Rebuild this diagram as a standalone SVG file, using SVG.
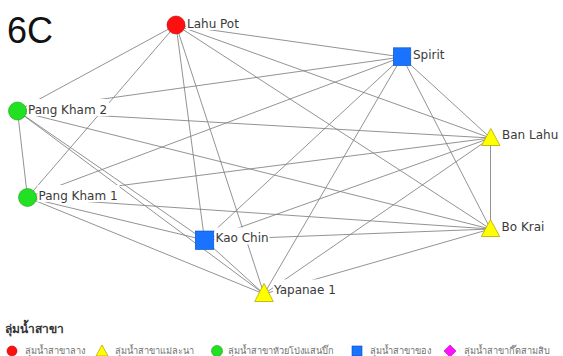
<svg xmlns="http://www.w3.org/2000/svg" width="563" height="356" viewBox="0 0 563 356">
<style>
.e line{stroke:#7f7f7f;stroke-width:0.85;fill:none}
.lbl{font-family:"DejaVu Sans",Verdana,sans-serif;font-size:12px;fill:#3a3a3a}
.bg{fill:#ffffff}
.red{fill:#ff1010;stroke:#c00000;stroke-width:0.6}
.grn{fill:#22e022;stroke:#10a010;stroke-width:0.6}
.blu{fill:#1a73ff;stroke:#0050c0;stroke-width:0.6}
.yel{fill:#ffff00;stroke:#b8a800;stroke-width:0.8}
.mag{fill:#ff10ff;stroke:#c000c0;stroke-width:0.6}
.lg{font-family:"Noto Sans","DejaVu Sans",sans-serif;font-size:9.2px;fill:#707070}
.lgt{font-family:"Noto Sans","DejaVu Sans",sans-serif;font-size:12px;font-weight:bold;fill:#333}
</style>
<rect width="563" height="356" fill="#ffffff"/>
<text x="7" y="43" font-family="Liberation Sans,Arial,sans-serif" font-size="36" fill="#111">6C</text>
<g id="edges" class="e">
<line x1="176" y1="25" x2="402" y2="57"/>
<line x1="176" y1="25" x2="17.5" y2="111"/>
<line x1="176" y1="25" x2="490.5" y2="138"/>
<line x1="176" y1="25" x2="27.5" y2="197.5"/>
<line x1="176" y1="25" x2="204.5" y2="240"/>
<line x1="176" y1="25" x2="490.5" y2="229"/>
<line x1="176" y1="25" x2="264" y2="294"/>
<line x1="402" y1="57" x2="17.5" y2="111"/>
<line x1="402" y1="57" x2="490.5" y2="138"/>
<line x1="402" y1="57" x2="27.5" y2="197.5"/>
<line x1="402" y1="57" x2="204.5" y2="240"/>
<line x1="402" y1="57" x2="490.5" y2="229"/>
<line x1="402" y1="57" x2="264" y2="294"/>
<line x1="17.5" y1="111" x2="490.5" y2="138"/>
<line x1="17.5" y1="111" x2="27.5" y2="197.5"/>
<line x1="17.5" y1="111" x2="204.5" y2="240"/>
<line x1="17.5" y1="111" x2="490.5" y2="229"/>
<line x1="17.5" y1="111" x2="264" y2="294"/>
<line x1="490.5" y1="138" x2="27.5" y2="197.5"/>
<line x1="490.5" y1="138" x2="204.5" y2="240"/>
<line x1="490.5" y1="138" x2="490.5" y2="229"/>
<line x1="490.5" y1="138" x2="264" y2="294"/>
<line x1="27.5" y1="197.5" x2="204.5" y2="240"/>
<line x1="27.5" y1="197.5" x2="490.5" y2="229"/>
<line x1="27.5" y1="197.5" x2="264" y2="294"/>
<line x1="204.5" y1="240" x2="490.5" y2="229"/>
<line x1="204.5" y1="240" x2="264" y2="294"/>
<line x1="490.5" y1="229" x2="264" y2="294"/>
</g>
<g id="n-lahupot">
<circle class="red" cx="176" cy="25" r="9"/>
<rect class="bg" x="186" y="13.5" width="57" height="16.5"/>
<text class="lbl" x="187" y="28">Lahu Pot</text>
</g>
<g id="n-spirit">
<rect class="blu" x="393.3" y="47.8" width="17.5" height="17.8"/>
<rect class="bg" x="412" y="44.5" width="33" height="17"/>
<text class="lbl" x="413" y="59">Spirit</text>
</g>
<g id="n-pangkham2">
<circle class="grn" cx="17.5" cy="111" r="9"/>
<rect class="bg" x="27" y="99" width="82" height="17"/>
<text class="lbl" x="28" y="113.5">Pang Kham 2</text>
</g>
<g id="n-banlahu">
<polygon class="yel" points="490.8,128.5 500,145.5 481.6,145.5"/>
<rect class="bg" x="501" y="124" width="59" height="17"/>
<text class="lbl" x="502" y="138.5">Ban Lahu</text>
</g>
<g id="n-pangkham1">
<circle class="grn" cx="27.5" cy="197.5" r="9"/>
<rect class="bg" x="37.5" y="185" width="82" height="17"/>
<text class="lbl" x="38.5" y="199.5">Pang Kham 1</text>
</g>
<g id="n-kaochin">
<rect class="blu" x="195.3" y="231" width="18.5" height="18.5"/>
<rect class="bg" x="214.5" y="227.5" width="55" height="17"/>
<text class="lbl" x="215.5" y="242">Kao Chin</text>
</g>
<g id="n-bokrai">
<polygon class="yel" points="490.5,219.5 499.7,236.5 481.3,236.5"/>
<rect class="bg" x="500.5" y="216" width="49" height="17"/>
<text class="lbl" x="501.5" y="230.5">Bo Krai</text>
</g>
<g id="n-yapanae1">
<polygon class="yel" points="264,283.5 273.3,301.5 254.7,301.5"/>
<rect class="bg" x="273" y="279.5" width="66" height="17"/>
<text class="lbl" x="274" y="294">Yapanae 1</text>
</g>
<g id="legend">
<text class="lgt" x="5" y="333">ลุ่มน้ำสาขา</text>
<circle class="red" cx="12" cy="351" r="5"/>
<text class="lg" x="25" y="354">ลุ่มน้ำสาขาลาง</text>
<polygon class="yel" points="102,345 108,356 96,356"/>
<text class="lg" x="115" y="354">ลุ่มน้ำสาขาแม่ละนา</text>
<circle class="grn" cx="217" cy="351" r="5.5"/>
<text class="lg" x="228" y="354">ลุ่มน้ำสาขาห้วยโป่งแสนปิ๊ก</text>
<rect class="blu" x="352" y="346" width="10" height="10"/>
<text class="lg" x="370" y="354">ลุ่มน้ำสาขาของ</text>
<polygon class="mag" points="450,345 456,351 450,357 444,351"/>
<text class="lg" x="464" y="354">ลุ่มน้ำสาขากึ๊ดสามสิบ</text>
</g>
</svg>
